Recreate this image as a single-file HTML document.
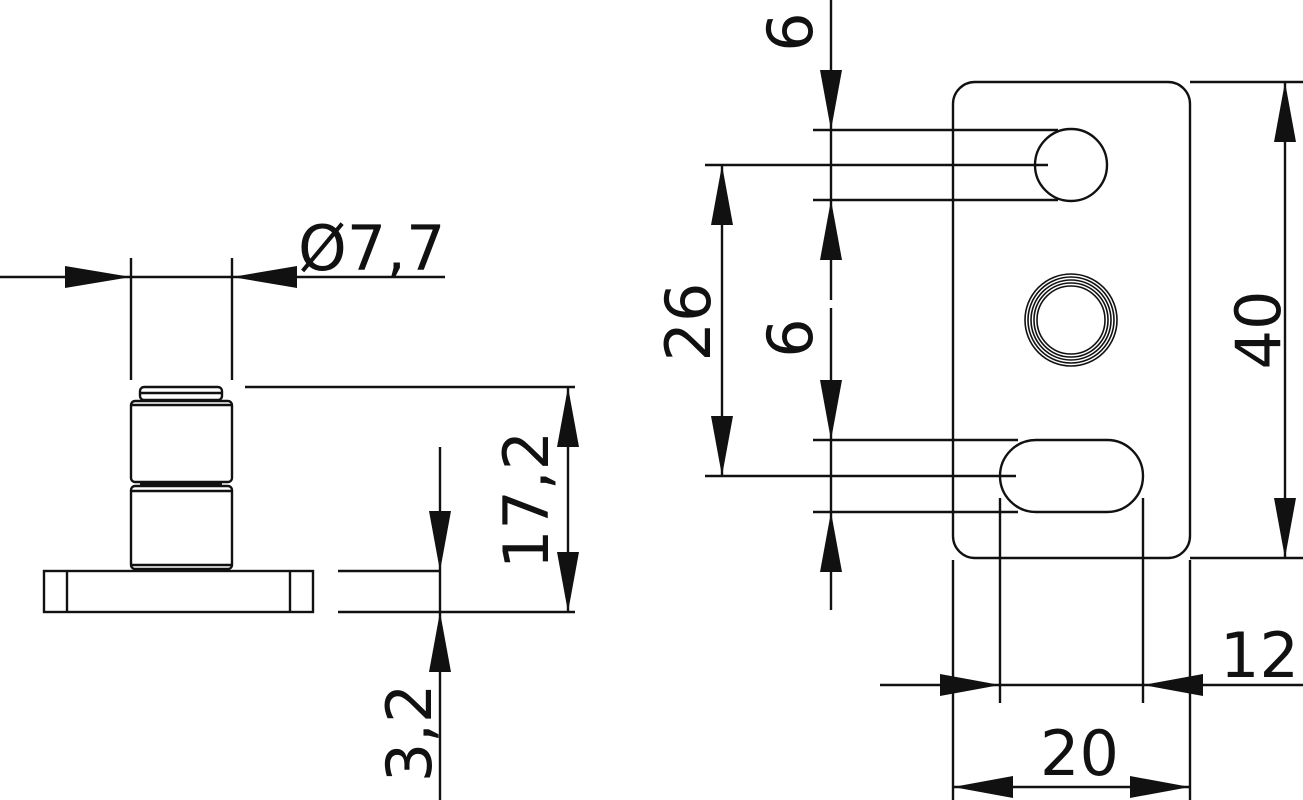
<!DOCTYPE html>
<html><head><meta charset="utf-8"><style>
html,body{margin:0;padding:0;background:#fff;}
svg{display:block}
text{font-family:"DejaVu Sans","Liberation Sans",sans-serif;fill:#111;}
</style></head><body>
<svg width="1303" height="800" viewBox="0 0 1303 800" xmlns="http://www.w3.org/2000/svg">
<g stroke="#111" stroke-width="2.4" fill="none">
<line x1="0" y1="277" x2="445" y2="277"/>
<line x1="131" y1="258" x2="131" y2="380"/>
<line x1="232" y1="258" x2="232" y2="380"/>
<rect x="140" y="387" width="82" height="13" rx="4"/>
<line x1="140" y1="393" x2="222" y2="393"/>
<rect x="131" y="401" width="101" height="81" rx="4"/>
<line x1="131" y1="405" x2="232" y2="405"/>
<line x1="140" y1="484" x2="222" y2="484"/>
<rect x="131" y="486" width="101" height="83" rx="4"/>
<line x1="131" y1="491" x2="232" y2="491"/>
<line x1="131" y1="565" x2="232" y2="565"/>
<rect x="44" y="571" width="269" height="41"/>
<line x1="67" y1="571" x2="67" y2="612"/>
<line x1="290" y1="571" x2="290" y2="612"/>
<line x1="245" y1="387" x2="575" y2="387"/>
<line x1="338" y1="612" x2="575" y2="612"/>
<line x1="338" y1="571" x2="440" y2="571"/>
<line x1="568" y1="387" x2="568" y2="612"/>
<line x1="440" y1="447" x2="440" y2="800"/>
<rect x="953" y="82" width="237" height="476" rx="22"/>
<circle cx="1071" cy="165" r="36"/>
<rect x="1000" y="440" width="143" height="72" rx="36"/>
<g stroke-width="1.6">
<circle cx="1071" cy="320" r="46"/>
<circle cx="1071" cy="320" r="43"/>
<circle cx="1071" cy="320" r="40"/>
<circle cx="1071" cy="320" r="37"/>
<circle cx="1071" cy="320" r="34"/>
</g>
<line x1="831" y1="0" x2="831" y2="300"/>
<line x1="831" y1="308" x2="831" y2="610"/>
<line x1="813" y1="130" x2="1058" y2="130"/>
<line x1="813" y1="200" x2="1058" y2="200"/>
<line x1="705" y1="165" x2="1048" y2="165"/>
<line x1="813" y1="440" x2="1018" y2="440"/>
<line x1="813" y1="512" x2="1018" y2="512"/>
<line x1="705" y1="476" x2="1016" y2="476"/>
<line x1="722" y1="165" x2="722" y2="476"/>
<line x1="1190" y1="82" x2="1303" y2="82"/>
<line x1="1190" y1="558" x2="1303" y2="558"/>
<line x1="1285" y1="82" x2="1285" y2="558"/>
<line x1="953" y1="560" x2="953" y2="800"/>
<line x1="1190" y1="560" x2="1190" y2="800"/>
<line x1="1000" y1="498" x2="1000" y2="703"/>
<line x1="1143" y1="498" x2="1143" y2="703"/>
<line x1="880" y1="685" x2="1303" y2="685"/>
<line x1="953" y1="787" x2="1190" y2="787"/>
</g>
<g fill="#111">
<polygon points="131,277 65,266 65,288"/>
<polygon points="232,277 297,266 297,288"/>
<polygon points="568,387 557,447 579,447"/>
<polygon points="568,612 557,552 579,552"/>
<polygon points="440,571 429,511 451,511"/>
<polygon points="440,612 429,672 451,672"/>
<polygon points="831,130 820,70 842,70"/>
<polygon points="831,200 820,260 842,260"/>
<polygon points="831,440 820,380 842,380"/>
<polygon points="831,512 820,572 842,572"/>
<polygon points="722,165 711,225 733,225"/>
<polygon points="722,476 711,416 733,416"/>
<polygon points="1285,82 1274,142 1296,142"/>
<polygon points="1285,558 1274,498 1296,498"/>
<polygon points="1000,685 940,674 940,696"/>
<polygon points="1143,685 1203,674 1203,696"/>
<polygon points="953,787 1013,776 1013,798"/>
<polygon points="1190,787 1130,776 1130,798"/>
</g>
<g font-size="62">
<text x="298" y="270">Ø7,7</text>
<text x="1220" y="677">12</text>
<text x="1040" y="775">20</text>
<text transform="translate(548,500) rotate(-90)" text-anchor="middle">17,2</text>
<text transform="translate(431,733) rotate(-90)" text-anchor="middle">3,2</text>
<text transform="translate(812,32) rotate(-90)" text-anchor="middle">6</text>
<text transform="translate(812,338) rotate(-90)" text-anchor="middle">6</text>
<text transform="translate(710,322) rotate(-90)" text-anchor="middle">26</text>
<text transform="translate(1280,330) rotate(-90)" text-anchor="middle">40</text>
</g>
</svg>
</body></html>
